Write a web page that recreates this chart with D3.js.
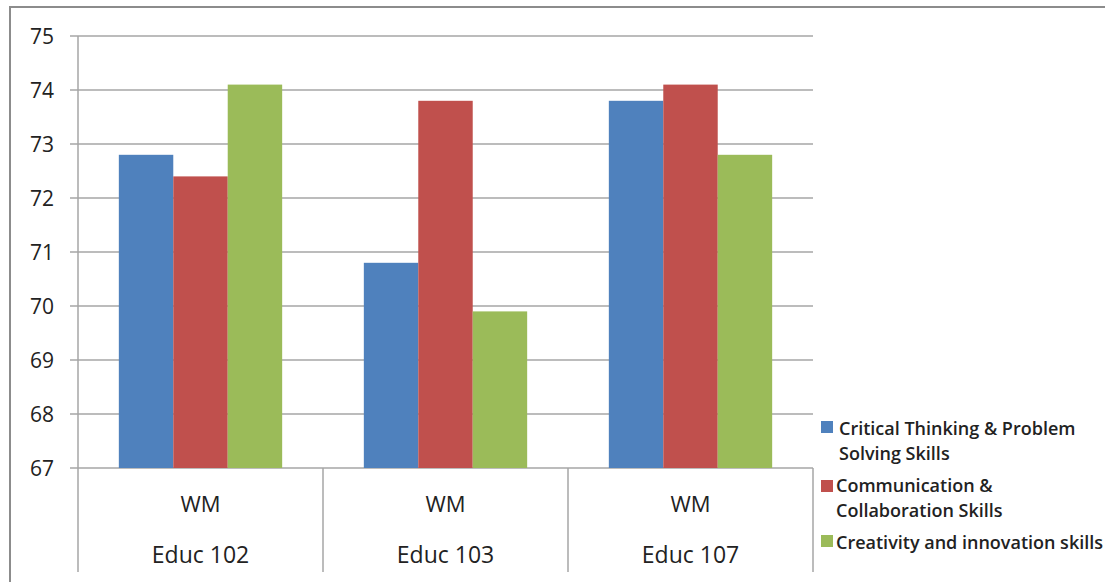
<!DOCTYPE html>
<html>
<head>
<meta charset="utf-8">
<script src="https://cdn.jsdelivr.net/npm/d3@7"></script>
<style>
  html, body { margin: 0; padding: 0; background: #fff; overflow: hidden; }
  svg { display: block; }
  text { font-family: "Open Sans", "Noto Sans", sans-serif; fill: #222; }
</style>
</head>
<body>
<svg id="chart" width="1105" height="582"></svg>
<script>
// Course groups and the skill series measured for each
const courses = ["Educ 102", "Educ 103", "Educ 107"];
const subLabel = "WM";
const seriesNames = [
  ["Critical Thinking & Problem", "Solving Skills"],
  ["Communication &", "Collaboration Skills"],
  ["Creativity and innovation skills"]
];
const criticalThinking = [72.8, 70.8, 73.8];
const communication = [72.4, 73.8, 74.1];
const creativity = [74.1, 69.9, 72.8];
const yTicks = [67, 68, 69, 70, 71, 72, 73, 74, 75];
const colors = ["#4f81bd", "#c0504d", "#9bbb59"];

const seriesValues = [criticalThinking, communication, creativity];

const svg = d3.select("#chart");

// Outer frame (runs past the right and bottom edges)
svg.append("rect")
  .attr("x", 10).attr("y", 7)
  .attr("width", 1200).attr("height", 700)
  .attr("fill", "none").attr("stroke", "#8c8c8c").attr("stroke-width", 2);

const plot = { left: 78, right: 813, top: 36, bottom: 468 };

const x = d3.scaleBand().domain(courses).range([plot.left, plot.right]).paddingInner(0).paddingOuter(0);
const y = d3.scaleLinear().domain([67, 75]).range([plot.bottom, plot.top]);

// Horizontal gridlines
svg.append("g").selectAll("line").data(yTicks).join("line")
  .attr("x1", plot.left - 8).attr("x2", plot.right)
  .attr("y1", d => y(d)).attr("y2", d => y(d))
  .attr("stroke", "#a6a6a6").attr("stroke-width", 1.5);

// Value axis line
svg.append("line")
  .attr("x1", plot.left).attr("x2", plot.left)
  .attr("y1", plot.top).attr("y2", plot.bottom)
  .attr("stroke", "#a6a6a6").attr("stroke-width", 1.5);

// Y tick labels
svg.append("g").selectAll("text").data(yTicks).join("text")
  .attr("x", 54).attr("y", d => y(d))
  .attr("dy", "0.36em")
  .attr("text-anchor", "end")
  .attr("font-size", 21)
  .text(d => d);

// Category separators extending below the axis
const seps = [plot.left, ...courses.map(c => x(c) + x.bandwidth())];
svg.append("g").selectAll("line").data(seps).join("line")
  .attr("x1", d => d).attr("x2", d => d)
  .attr("y1", plot.bottom)
  .attr("y2", 572)
  .attr("stroke", "#a6a6a6").attr("stroke-width", 1.5);

// Bars
const inner = d3.scaleBand().domain(d3.range(seriesValues.length))
  .range([0, x.bandwidth()]).paddingOuter(0.75).paddingInner(0);

const groups = svg.append("g").selectAll("g").data(courses).join("g")
  .attr("transform", d => `translate(${x(d)},0)`);

groups.selectAll("rect")
  .data((c, ci) => seriesValues.map((vals, si) => ({ si, v: vals[ci] })))
  .join("rect")
  .attr("x", d => inner(d.si))
  .attr("width", inner.bandwidth())
  .attr("y", d => y(d.v))
  .attr("height", d => y(67) - y(d.v))
  .attr("fill", d => colors[d.si]);

// Category labels (two levels)
svg.append("g").selectAll("text").data(courses).join("text")
  .attr("x", d => x(d) + x.bandwidth() / 2).attr("y", 512)
  .attr("text-anchor", "middle").attr("font-size", 22)
  .text(subLabel);
svg.append("g").selectAll("text").data(courses).join("text")
  .attr("x", d => x(d) + x.bandwidth() / 2).attr("y", 563)
  .attr("text-anchor", "middle").attr("font-size", 23)
  .text(d => d);

// Legend
const swatchCenters = [427, 486, 541];
const textBaselines = [[435, 460], [492, 517], [549]];
const legend = svg.append("g").selectAll("g").data(seriesNames).join("g");
legend.append("rect")
  .attr("x", 821).attr("y", (d, i) => swatchCenters[i] - 6)
  .attr("width", 12).attr("height", 12)
  .attr("fill", (d, i) => colors[i]);
legend.each(function (lines, i) {
  d3.select(this).selectAll("text").data(lines).join("text")
    .attr("x", i === 0 ? 839 : 836)
    .attr("y", (d, j) => textBaselines[i][j])
    .attr("font-size", 18)
    .attr("font-weight", 600)
    .text(d => d);
});
</script>
</body>
</html>
